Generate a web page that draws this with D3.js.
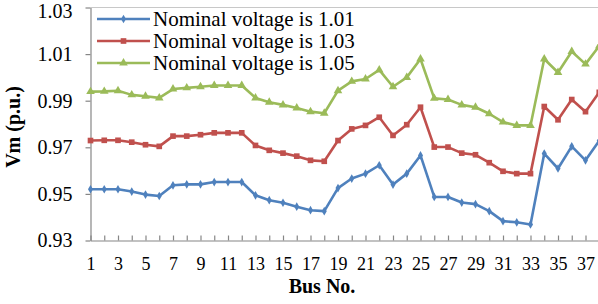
<!DOCTYPE html>
<html>
<head>
<meta charset="utf-8">
<script src="https://cdn.jsdelivr.net/npm/d3@7"></script>
<style>
  body { margin: 0; background: #fff; }
  svg { display: block; font-family: "Liberation Serif", "Times New Roman", serif; }
</style>
</head>
<body>
<svg id="chart" width="598" height="304"></svg>
<script>
// bus numbers and voltages (p.u.)
const buses = d3.range(1, 39);
const yTicks = [0.93, 0.95, 0.97, 0.99, 1.01, 1.03];

const v101 = [0.952, 0.952, 0.952, 0.951, 0.9497, 0.9491, 0.9537, 0.9541, 0.9541, 0.9551,
  0.9551, 0.9551, 0.9494, 0.9473, 0.9462, 0.9445, 0.943, 0.9426, 0.9525, 0.9566,
  0.9587, 0.9623, 0.954, 0.9587, 0.9665, 0.9487, 0.9487, 0.9463, 0.9456, 0.9426,
  0.9383, 0.9378, 0.9369, 0.9673, 0.9609, 0.9704, 0.9644, 0.9728];
const v103 = [0.9729, 0.973, 0.973, 0.9722, 0.9711, 0.9704, 0.9748, 0.9748, 0.9754, 0.9762,
  0.9762, 0.9762, 0.9708, 0.9687, 0.9675, 0.9662, 0.9644, 0.964, 0.9729, 0.9779,
  0.9794, 0.9829, 0.9751, 0.9797, 0.9872, 0.9701, 0.9701, 0.9675, 0.9668, 0.9634,
  0.9597, 0.9587, 0.9587, 0.9875, 0.9818, 0.9905, 0.9853, 0.9936];
const v105 = [0.9939, 0.994, 0.9943, 0.9925, 0.9919, 0.9912, 0.995, 0.9955, 0.996, 0.9965,
  0.9965, 0.9965, 0.9912, 0.9893, 0.9882, 0.9869, 0.9853, 0.9846, 0.9943, 0.9983,
  0.9993, 1.0032, 0.996, 1.0, 1.0079, 0.991, 0.9905, 0.9882, 0.9872, 0.9844,
  0.9808, 0.9794, 0.9794, 1.0079, 1.0021, 1.0111, 1.0057, 1.0135];

const seriesNames = ["Nominal voltage is 1.01", "Nominal voltage is 1.03", "Nominal voltage is 1.05"];
const seriesValues = [v101, v103, v105];
const colors = ["#4F81BD", "#C0504D", "#9BBB59"];
const symbols = [d3.symbolDiamond, d3.symbolSquare, d3.symbolTriangle];
const symbolSizes = [22, 32, 32];

const svg = d3.select("#chart");
const axisColor = "#868686";

const x = d3.scaleLinear().domain([1, 38]).range([90.5, 599.25]);
const y = d3.scaleLinear().domain([0.93, 1.03]).range([240.5, 7.5]);

// top border line
svg.append("line")
  .attr("x1", x(1)).attr("x2", 598)
  .attr("y1", y(1.03)).attr("y2", y(1.03))
  .attr("stroke", "#c8c8c8").attr("stroke-width", 1.2);

// x axis
const xAxis = svg.append("g")
  .attr("transform", `translate(0,${y(0.93)})`)
  .call(d3.axisBottom(x).tickValues(buses).tickSize(-5).tickSizeOuter(0)
    .tickPadding(17).tickFormat(d => d % 2 ? d : ""));
xAxis.selectAll("text").attr("font-size", 18).attr("fill", "#000")
  .attr("font-family", "Liberation Serif, serif");

// y axis
const yAxis = svg.append("g")
  .attr("transform", `translate(${x(1)},0)`)
  .call(d3.axisLeft(y).tickValues(yTicks).tickSize(5).tickSizeOuter(0)
    .tickPadding(13).tickFormat(d3.format(".2f")));
yAxis.selectAll("text").attr("font-size", 20).attr("fill", "#000")
  .attr("font-family", "Liberation Serif, serif")
  .attr("dy", d => d === 1.03 ? "0.52em" : "0.32em");

svg.selectAll(".domain, .tick line").attr("stroke", axisColor).attr("stroke-width", 1.2);

// axis titles
svg.append("text")
  .attr("x", 322).attr("y", 293)
  .attr("text-anchor", "middle")
  .attr("font-size", 20).attr("font-weight", "bold")
  .text("Bus No.");

svg.append("text")
  .attr("transform", "translate(20,127) rotate(-90)")
  .attr("text-anchor", "middle")
  .attr("font-size", 20).attr("font-weight", "bold")
  .text("Vm (p.u.)");

// series
const line = d3.line().x((d, i) => x(buses[i])).y(d => y(d));

seriesValues.forEach((vals, s) => {
  svg.append("path")
    .datum(vals)
    .attr("d", line)
    .attr("fill", "none")
    .attr("stroke", colors[s])
    .attr("stroke-width", 2.6)
    .attr("stroke-linejoin", "round");

  svg.append("g").selectAll("path")
    .data(vals)
    .join("path")
    .attr("transform", (d, i) => `translate(${x(buses[i])},${y(d)})`)
    .attr("d", d3.symbol().type(symbols[s]).size(symbolSizes[s]))
    .attr("fill", colors[s]);
});

// legend
const legend = svg.append("g");
seriesNames.forEach((name, s) => {
  const ly = 19 + s * 22;
  legend.append("line")
    .attr("x1", 97).attr("x2", 150)
    .attr("y1", ly).attr("y2", ly)
    .attr("stroke", colors[s]).attr("stroke-width", 2.6);
  legend.append("path")
    .attr("transform", `translate(123.5,${ly})`)
    .attr("d", d3.symbol().type(symbols[s]).size(symbolSizes[s]))
    .attr("fill", colors[s]);
  legend.append("text")
    .attr("x", 153).attr("y", ly)
    .attr("dy", "0.33em")
    .attr("font-size", 21)
    .text(name);
});
</script>
</body>
</html>
